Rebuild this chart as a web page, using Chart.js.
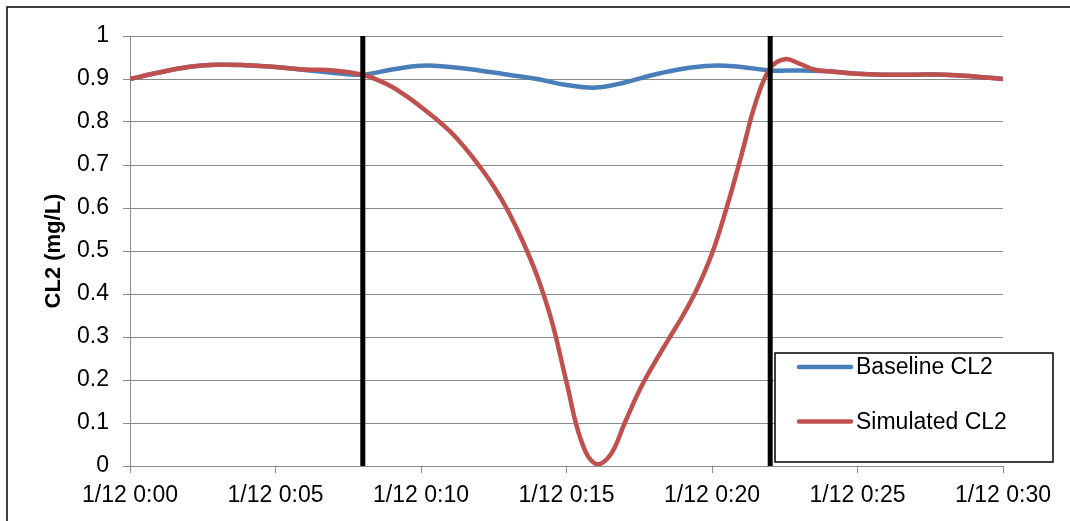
<!DOCTYPE html>
<html>
<head>
<meta charset="utf-8">
<script src="https://cdn.jsdelivr.net/npm/chart.js@4.4.0/dist/chart.umd.min.js"></script>
<style>
  html, body { margin: 0; padding: 0; background: #fff; }
  #wrap { width: 1070px; height: 521px; position: relative; }
</style>
</head>
<body>
<div id="wrap"><canvas id="lineChart"></canvas></div>
<script>
  // minutes after 1/12 0:00
  const baselineMinutes = [0, 1, 2, 3, 4, 5, 6, 7, 8, 9, 10, 11, 12, 13, 14, 15, 16, 17, 18, 19, 20, 21, 22, 23, 24, 25, 26, 27, 28, 29, 30];
  const baselineCl2 = [0.900, 0.915, 0.928, 0.933, 0.932, 0.928, 0.921, 0.914, 0.910, 0.922, 0.931, 0.928, 0.920, 0.910, 0.900, 0.886, 0.880, 0.892, 0.910, 0.924, 0.931, 0.928, 0.920, 0.920, 0.918, 0.912, 0.910, 0.910, 0.910, 0.906, 0.900];

  const simulatedMinutes = [0, 1, 2, 3, 4, 5, 6, 7, 8, 8.5, 9, 9.5, 10, 10.5, 11, 11.5, 12, 12.5, 13, 13.5, 14, 14.5, 15, 15.5, 16, 16.5, 17, 17.5, 18, 18.5, 19, 19.5, 20, 20.5, 21, 21.5, 22, 22.5, 23, 23.5, 24, 25, 26, 27, 28, 29, 30];
  const simulatedCl2 = [0.900, 0.915, 0.928, 0.933, 0.932, 0.928, 0.922, 0.920, 0.910, 0.898, 0.882, 0.860, 0.835, 0.808, 0.778, 0.741, 0.698, 0.650, 0.592, 0.522, 0.440, 0.335, 0.195, 0.060, 0.005, 0.025, 0.100, 0.175, 0.237, 0.294, 0.350, 0.414, 0.494, 0.600, 0.720, 0.845, 0.925, 0.946, 0.936, 0.922, 0.918, 0.912, 0.910, 0.910, 0.910, 0.906, 0.900];

  // the two event markers (minutes)
  const markerMinutes = [8, 22];

  const xTickLabels = ['1/12 0:00', '1/12 0:05', '1/12 0:10', '1/12 0:15', '1/12 0:20', '1/12 0:25', '1/12 0:30'];
  const yTickLabels = ['0', '0.1', '0.2', '0.3', '0.4', '0.5', '0.6', '0.7', '0.8', '0.9', '1'];

  const FONT = 'Arial, "Liberation Sans", sans-serif';
  const GRID = '#8a8a8a';

  function toPoints(xs, ys) {
    return xs.map((x, i) => ({ x: x, y: ys[i] }));
  }

  // frame round the chart + legend box inside the plot
  const framePlugin = {
    id: 'frame',
    afterDraw(chart) {
      const c = chart.ctx;
      c.save();
      c.strokeStyle = '#000';
      c.lineWidth = 1.5;
      c.beginPath();
      c.moveTo(7, chart.height);
      c.lineTo(7, 7);
      c.lineTo(chart.width, 7);
      c.stroke();

      // legend
      const items = chart.data.datasets.filter(d => !d.hideInLegend);
      c.fillStyle = '#fff';
      c.fillRect(775, 353, 278, 109);
      c.strokeStyle = '#000';
      c.lineWidth = 1.5;
      c.strokeRect(775, 353, 278, 109);
      c.font = '23px ' + FONT;
      c.textBaseline = 'middle';
      items.forEach((d, i) => {
        const y = 367 + i * 54.5;
        c.strokeStyle = d.borderColor;
        c.lineWidth = 4.5;
        c.lineCap = 'round';
        c.beginPath();
        c.moveTo(799, y);
        c.lineTo(851, y);
        c.stroke();
        c.fillStyle = '#000';
        c.fillText(d.label, 856, y + 1);
      });
      c.restore();
    }
  };

  function renderChart() {
    const ctx = document.getElementById('lineChart').getContext('2d');

    const markerSets = markerMinutes.map(m => ({
      label: 'marker',
      data: [{ x: m, y: 0 }, { x: m, y: 1 }],
      borderColor: '#000',
      borderWidth: 5,
      pointRadius: 0,
      tension: 0,
      hideInLegend: true,
      order: 0
    }));

    new Chart(ctx, {
      type: 'line',
      data: {
        datasets: [
          {
            label: 'Baseline CL2',
            data: toPoints(baselineMinutes, baselineCl2),
            borderColor: '#4a7ebb',
            borderWidth: 4.5,
            pointRadius: 0,
            tension: 0.4,
            order: 2
          },
          {
            label: 'Simulated CL2',
            data: toPoints(simulatedMinutes, simulatedCl2),
            borderColor: '#c0504d',
            borderWidth: 4.5,
            pointRadius: 0,
            tension: 0.4,
            order: 1
          },
          ...markerSets
        ]
      },
      options: {
        responsive: true,
        maintainAspectRatio: false,
        animation: false,
        layout: { padding: { top: 36, right: 67, bottom: 0, left: 0 } },
        plugins: {
          legend: { display: false },
          tooltip: { enabled: false }
        },
        scales: {
          x: {
            type: 'linear',
            min: 0,
            max: 30,
            afterFit: s => { s.height = 55; },
            ticks: {
              stepSize: 5,
              color: '#000',
              padding: 9,
              maxRotation: 0,
              font: { family: FONT, size: 23 },
              callback: (v, i) => xTickLabels[i]
            },
            grid: { drawOnChartArea: false, drawTicks: true, tickLength: 7, color: GRID },
            border: { color: GRID, width: 1 }
          },
          y: {
            min: 0,
            max: 1,
            afterFit: s => { s.width = 130; },
            ticks: {
              stepSize: 0.1,
              color: '#000',
              padding: 14,
              font: { family: FONT, size: 23 },
              callback: (v, i) => yTickLabels[i]
            },
            grid: { color: GRID, tickLength: 7 },
            border: { color: GRID, width: 1 },
            title: {
              display: true,
              text: 'CL2 (mg/L)',
              color: '#000',
              font: { family: FONT, size: 22, weight: 'bold' },
              padding: { top: 41, bottom: 0 }
            }
          }
        }
      },
      plugins: [framePlugin]
    });
  }

  document.addEventListener('DOMContentLoaded', renderChart);
</script>
</body>
</html>
